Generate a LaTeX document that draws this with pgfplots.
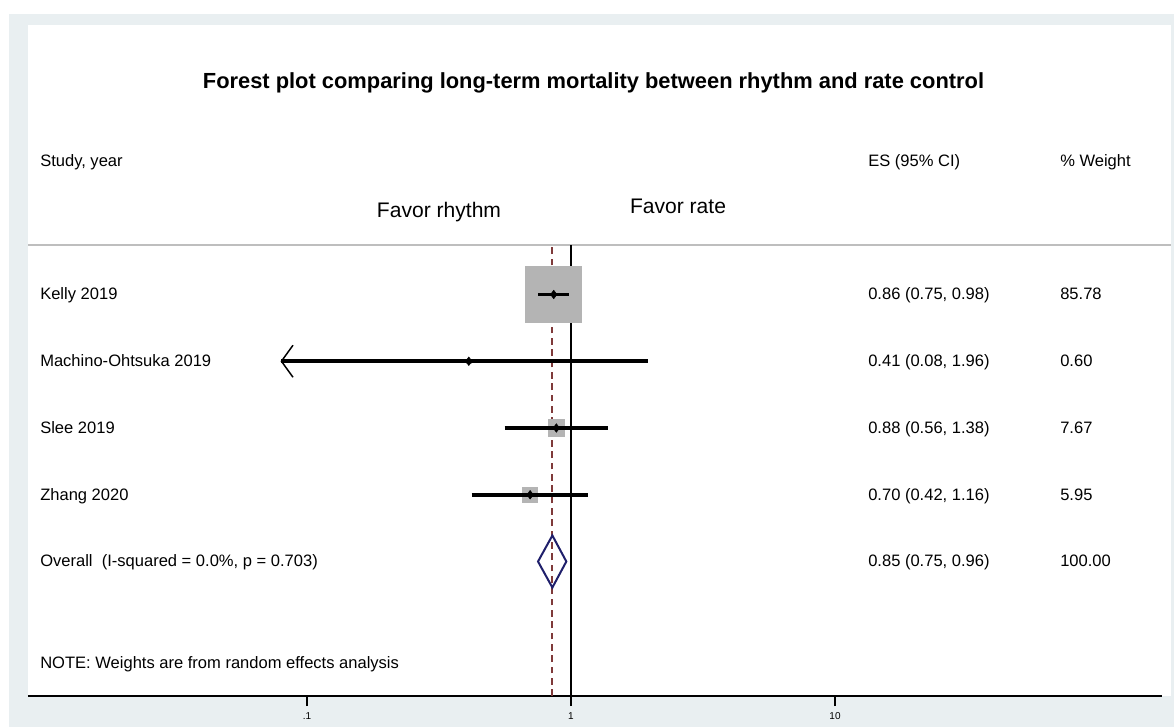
\documentclass[border=0pt]{standalone}
\usepackage{pgfplots}
\pgfplotsset{compat=1.18}
\usepackage{fontspec}
\setmainfont{Liberation Sans}

\definecolor{bgband}{HTML}{E9EFF1}
\definecolor{sqgray}{HTML}{B4B4B4}
\definecolor{hdrline}{HTML}{BEBEBE}
\definecolor{refred}{HTML}{7F3A3A}
\definecolor{dnavy}{HTML}{1F1F6B}

% y: study rows (Overall=1 ... Kelly=5), x: effect size (log)
\pgfplotstableread{
y es   lo   hi   w
5 0.86 0.75 0.98 85.78
4 0.41 0.08 1.96 0.60
3 0.88 0.56 1.38 7.67
2 0.70 0.42 1.16 5.95
}\studies

\newcommand{\bodyfont}{\fontsize{12.4}{14}\selectfont}

\begin{document}
\begin{tikzpicture}
% frame, in pixel units of the reference
\begin{scope}[x=0.75pt,y=-0.75pt]
  \fill[white] (0,0) rectangle (1174,727);
  \useasboundingbox (0,0) rectangle (1174,727);
  \fill[bgband] (9,14) rectangle (1174,727);
  \fill[white] (28,25) rectangle (1171,696);
  \draw[hdrline, line width=1.5pt] (28,245) -- (1171,245);
\end{scope}

\begin{axis}[
  at={(21pt,-522pt)}, anchor=south west,
  scale only axis, width=850.5pt, height=503.25pt,
  xmode=log, xmin=0.008773, xmax=173.2,
  ymin=-1.015, ymax=9.0375,
  axis x line*=bottom, axis y line=none,
  x axis line style={line width=1.5pt},
  xtick={0.1,1,10}, xticklabels={.1,1,10},
  xminorticks=false,
  tick align=outside, major tick length=7.5pt,
  every tick/.style={black, line width=1.2pt},
  xticklabel style={font=\fontsize{7.5}{8}\selectfont, yshift=-1.5pt, /pgf/number format/assume math mode=true},
  clip=false, clip mode=individual,
]
% reference lines
\addplot[black, line width=1.5pt] coordinates {(1,-1.015) (1,5.7416)};
\addplot[refred, line width=1.5pt, dash pattern=on 5pt off 3.5pt] coordinates {(0.85,-1.015) (0.85,5.7416)};

% weight squares
\addplot[scatter, only marks, mark=square*,
  scatter/use mapped color={draw=sqgray, fill=sqgray},
  visualization depends on={2.2674*sqrt(\thisrow{w}) \as \msize},
  scatter/@pre marker code/.append style={/tikz/mark size=\msize pt}]
  table[x=es, y=y] {\studies};

% confidence intervals
\addplot[black, line width=2.7pt] coordinates {(0.75,5) (0.98,5)};
\addplot[black, line width=2.7pt] coordinates {(0.08,4) (1.96,4)};
\addplot[black, line width=2.7pt] coordinates {(0.56,3) (1.38,3)};
\addplot[black, line width=2.7pt] coordinates {(0.42,2) (1.16,2)};
% arrow at the truncated lower limit
\addplot[black, line width=1.1pt] coordinates {(0.0885,4.24) (0.08,4) (0.0885,3.76)};

% point estimates
\addplot[only marks, mark=diamond*, mark size=3.2pt, black] table[x=es, y=y] {\studies};

% pooled estimate
\addplot[dnavy, line width=1.5pt, line join=miter] coordinates {(0.75,1) (0.85,1.39) (0.96,1) (0.85,0.61)} -- cycle;
\end{axis}

\begin{scope}[x=0.75pt,y=-0.75pt]
  \node[anchor=base, font=\fontsize{16.4}{19}\selectfont\bfseries] at (593.5,89)
    {Forest plot comparing long-term mortality between rhythm and rate control};
  \begin{scope}[every node/.style={anchor=base west, inner sep=0pt, font=\bodyfont}]
    \node at (40,167) {Study, year};
    \node at (868,167) {ES (95\% CI)};
    \node at (1060,167) {\% Weight};
    \node at (40,299.5) {Kelly 2019};
    \node at (40,366.5) {Machino-Ohtsuka 2019};
    \node at (40,433.5) {Slee 2019};
    \node at (40,500) {Zhang 2020};
    \node at (40,566.5) {Overall\ \ (I-squared = 0.0\%, p = 0.703)};
    \node at (868,299.5) {0.86 (0.75, 0.98)};
    \node at (868,366.5) {0.41 (0.08, 1.96)};
    \node at (868,433.5) {0.88 (0.56, 1.38)};
    \node at (868,500) {0.70 (0.42, 1.16)};
    \node at (868,566.5) {0.85 (0.75, 0.96)};
    \node at (1060,299.5) {85.78};
    \node at (1060,366.5) {0.60};
    \node at (1060,433.5) {7.67};
    \node at (1060,500) {5.95};
    \node at (1060,566.5) {100.00};
    \node at (40,668) {NOTE: Weights are from random effects analysis};
  \end{scope}
  \node[anchor=base, inner sep=0pt, font=\fontsize{15.8}{18}\selectfont] at (439,218) {Favor rhythm};
  \node[anchor=base, inner sep=0pt, font=\fontsize{15.8}{18}\selectfont] at (678,214) {Favor rate};
\end{scope}
\end{tikzpicture}
\end{document}
